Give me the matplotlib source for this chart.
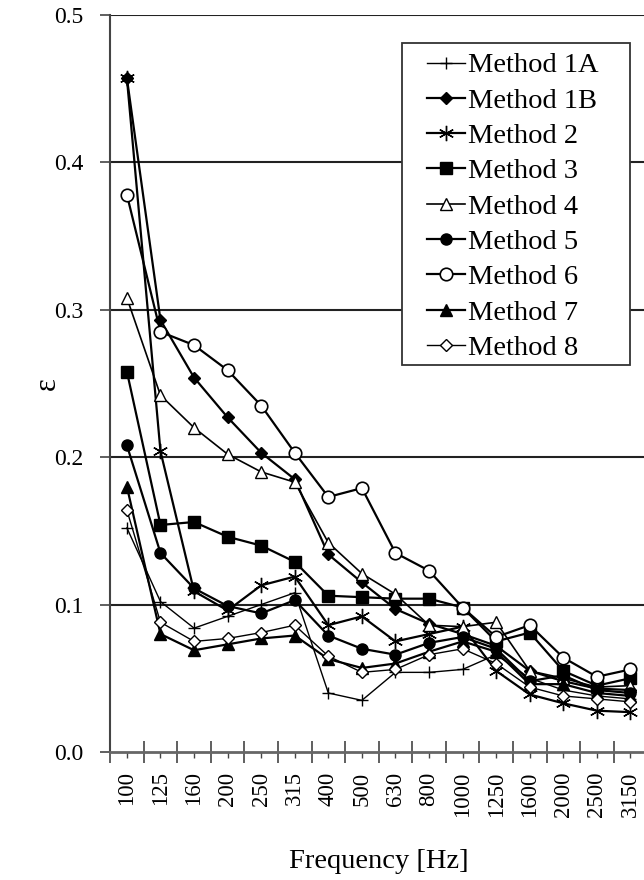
import numpy as np
import matplotlib
matplotlib.use('Agg')
import matplotlib.pyplot as plt
from matplotlib.patches import Rectangle
from matplotlib.ticker import FixedLocator, NullFormatter

plt.rcParams['font.family'] = ['Liberation Serif', 'DejaVu Serif']

# Frequency bands and absorption error per method
freqs = ['100', '125', '160', '200', '250', '315', '400', '500', '630', '800',
         '1000', '1250', '1600', '2000', '2500', '3150']

m1a = [0.152, 0.102, 0.084, 0.092, 0.100, 0.108, 0.040, 0.035, 0.054, 0.054, 0.056, 0.066, 0.050, 0.042, 0.038, 0.036]
m1b = [0.457, 0.293, 0.254, 0.227, 0.203, 0.185, 0.134, 0.115, 0.097, 0.087, 0.080, 0.072, 0.055, 0.048, 0.043, 0.042]
m2 = [0.457, 0.204, 0.109, 0.096, 0.113, 0.119, 0.086, 0.092, 0.075, 0.080, 0.085, 0.055, 0.039, 0.033, 0.028, 0.027]
m3 = [0.258, 0.154, 0.156, 0.146, 0.140, 0.129, 0.106, 0.105, 0.104, 0.104, 0.098, 0.075, 0.081, 0.055, 0.045, 0.050]
m4 = [0.308, 0.242, 0.220, 0.202, 0.190, 0.183, 0.142, 0.121, 0.107, 0.086, 0.085, 0.088, 0.055, 0.050, 0.044, 0.045]
m5 = [0.208, 0.135, 0.111, 0.099, 0.094, 0.103, 0.079, 0.070, 0.066, 0.074, 0.078, 0.070, 0.048, 0.052, 0.042, 0.040]
m6 = [0.378, 0.285, 0.276, 0.259, 0.235, 0.203, 0.173, 0.179, 0.135, 0.123, 0.098, 0.078, 0.086, 0.064, 0.051, 0.056]
m7 = [0.180, 0.080, 0.069, 0.073, 0.077, 0.079, 0.063, 0.057, 0.060, 0.068, 0.075, 0.068, 0.046, 0.046, 0.040, 0.038]
m8 = [0.164, 0.088, 0.075, 0.077, 0.081, 0.086, 0.065, 0.054, 0.056, 0.066, 0.070, 0.060, 0.044, 0.038, 0.036, 0.034]

fig = plt.figure(figsize=(6.44, 8.8), dpi=100)
ax = fig.add_axes([0.171, 0.1455, 0.834, 0.8375])

x = np.arange(len(freqs))
k = dict(color='black', markeredgecolor='black')
ax.plot(x, m1a, marker='+', ms=9, mew=1.0, lw=1.0, label='Method 1A', **k)
ax.plot(x, m1b, marker='D', ms=6, mfc='black', lw=1.6, label='Method 1B', **k)
ax.plot(x, m2, marker=(6, 2, 0), ms=11, mew=1.0, lw=1.6, label='Method 2', **k)
ax.plot(x, m3, marker='s', ms=8, mfc='black', lw=1.6, label='Method 3', **k)
ax.plot(x, m4, marker='^', ms=8, mfc='white', mew=1.0, lw=1.2, label='Method 4', **k)
ax.plot(x, m5, marker='o', ms=8, mfc='black', lw=1.6, label='Method 5', **k)
ax.plot(x, m6, marker='o', ms=9, mfc='white', mew=1.2, lw=1.6, label='Method 6', **k)
ax.plot(x, m7, marker='^', ms=8, mfc='black', lw=1.6, label='Method 7', **k)
ax.plot(x, m8, marker='D', ms=6, mfc='white', mew=1.0, lw=1.0, label='Method 8', **k)

ax.set_xlim(-0.5, len(freqs) - 0.5)
ax.set_ylim(0, 0.5)
ax.set_yticks([0.0, 0.1, 0.2, 0.3, 0.4, 0.5])
ax.set_yticklabels(['0.0', '0.1', '0.2', '0.3', '0.4', '0.5'], fontsize=17)
for v in [0.1, 0.2, 0.3, 0.4, 0.5]:
    ax.axhline(v, color='#222222', lw=1.5, zorder=0)

ax.set_xticks(x)
ax.set_xticklabels(freqs, rotation=90, fontsize=16.5)
ax.tick_params(axis='x', which='major', direction='out', length=4, width=1, color='#444444', pad=10)
ax.xaxis.set_minor_locator(FixedLocator(np.arange(-0.5, len(freqs), 1.0)))
ax.xaxis.set_minor_formatter(NullFormatter())
ax.tick_params(axis='x', which='minor', direction='inout', length=16, width=1.2, color='#444444')
ax.tick_params(axis='y', direction='out', length=7, width=1.2, color='#444444', pad=12)

for s in ['top', 'right']:
    ax.spines[s].set_visible(False)
ax.spines['left'].set_color('#444444')
ax.spines['left'].set_linewidth(1.5)
ax.spines['bottom'].set_color('#666666')
ax.spines['bottom'].set_linewidth(2)

ax.set_xlabel('Frequency [Hz]', fontsize=20.5, labelpad=23)
ax.set_ylabel('ε', fontsize=22)
ax.yaxis.set_label_coords(-0.09, 0.5)

# Excel-style legend box: wider frame drawn separately
box = Rectangle((0.544, 0.525), 0.424, 0.437, transform=ax.transAxes,
                facecolor='white', edgecolor='#333333', lw=1.3, zorder=4.9)
ax.add_patch(box)
leg = ax.legend(loc='upper left', bbox_to_anchor=(0.59, 0.949), fontsize=20.5,
                handlelength=1.33, handletextpad=0.1, labelspacing=0.33,
                borderpad=0, borderaxespad=0, frameon=False)

fig.savefig('out.png', dpi=100)
